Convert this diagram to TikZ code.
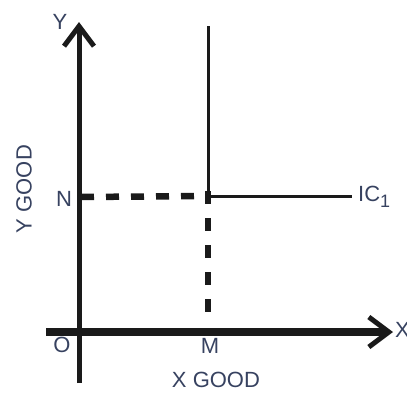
\documentclass[tikz,border=0pt]{standalone}
\usepackage{fontspec}
\setmainfont{Liberation Sans}
\usetikzlibrary{arrows.meta,positioning}
\definecolor{ink}{HTML}{1A1A1A}
\definecolor{lbl}{HTML}{374260}

\begin{document}
\begin{tikzpicture}[x=1pt,y=-1pt,
  axis/.style={draw=ink,-{Straight Barb[length=20pt,width=30pt,line width=5pt]}},
  curve/.style={draw=ink,line width=3pt},
  guide/.style={draw=ink,line width=6.5pt,dash pattern=on 13pt off 12pt},
  lab/.style={text=lbl,font=\fontsize{22}{22}\selectfont,inner sep=0pt}]
  \useasboundingbox (0,0) rectangle (407,392);
  % axes
  \coordinate (ybot) at (79,383);
  \coordinate (ytop) at (79,22);
  \coordinate (xleft) at (46,332);
  \coordinate (xright) at (393,332);
  \draw[axis,line width=5pt] (ybot) -- (ytop);
  \draw[axis,line width=8pt] (xleft) -- (xright);
  % indifference curve
  \coordinate (ictop) at (208,26);
  \coordinate (kink) at (208,196);
  \coordinate (icend) at (352,196);
  \draw[curve] (ictop) -- (kink) -- (icend);
  % guide lines
  \coordinate (nn) at (81,197);
  \coordinate (mm) at (208,322);
  \draw[guide] (nn) -- (kink);
  \draw[guide,dash pattern=on 13pt off 14pt] ([yshift=5pt]kink) -- (mm);
  % labels
  \node[lab] (ly) at (60,22) {Y};
  \node[lab,anchor=west] (lx) at (395,330) {X};
  \node[lab] (ln) at (64,199) {N};
  \node[lab] (lo) at (62,345) {O};
  \node[lab] (lm) at (210,346) {M};
  \node[lab,anchor=west] (lic) at (358,197) {IC\raisebox{-6pt}{\fontsize{18}{18}\selectfont 1}};
  \node[lab] (lxg) at (216,380) {X GOOD};
  \node[lab,rotate=90] (lyg) at (24,189) {Y GOOD};
\end{tikzpicture}
\end{document}
